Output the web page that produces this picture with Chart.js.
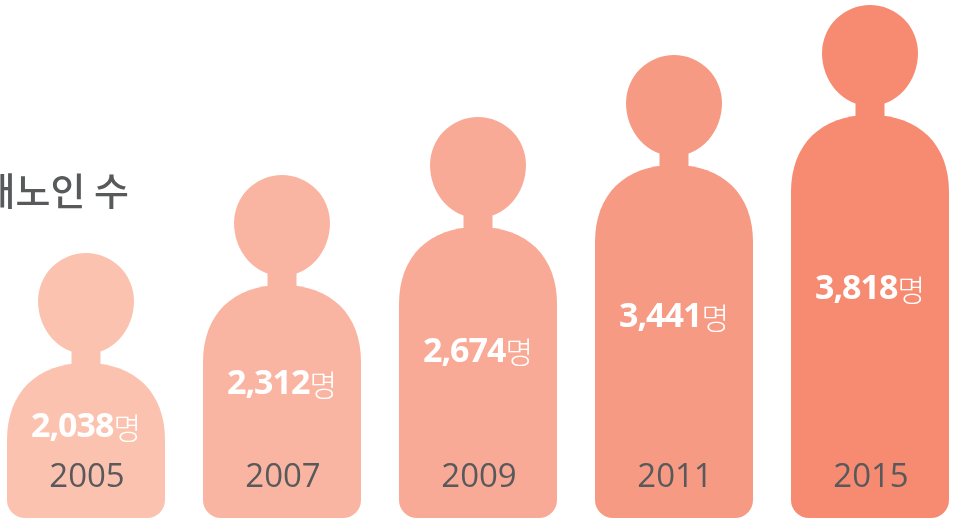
<!DOCTYPE html>
<html lang="ko">
<head>
<meta charset="utf-8">
<title>치매노인 수</title>
<script src="https://cdn.jsdelivr.net/npm/chart.js@4"></script>
<style>
    html, body { margin: 0; padding: 0; width: 953px; height: 518px; overflow: hidden; background: #fff; }
    #chart { position: absolute; left: -12px; top: 0; }
</style>
</head>
<body>
<canvas id="chart" width="980" height="518"></canvas>
<script>
const chartTitle = '치매노인 수';
const years = ['2005', '2007', '2009', '2011', '2015'];
const counts = [2038, 2312, 2674, 3441, 3818];
const figureColors = ['#fcc2b0', '#fab5a2', '#f9aa96', '#f79a84', '#f68b72'];

const textGrey = '#58595b';
const latinFont = '"Open Sans", sans-serif';
const koreanFont = '"Noto Sans CJK KR", sans-serif';

// the figures in the picture are not drawn to scale, so the y axis is
// piecewise: each stop says what share of the axis height a value reaches
class FigureScale extends Chart.LinearScale {
    static id = 'figureScale';
    static defaults = Chart.LinearScale.defaults;

    getPixelForValue(value) {
        const stops = this.options.stops;
        let share = stops[stops.length - 1][1];
        for (let i = 1; i < stops.length; i++) {
            if (value <= stops[i][0]) {
                const [v0, s0] = stops[i - 1];
                const [v1, s1] = stops[i];
                share = s0 + (s1 - s0) * (value - v0) / (v1 - v0);
                break;
            }
        }
        return this.bottom - share * (this.bottom - this.top);
    }
}
Chart.register(FigureScale);

function drawFigure(ctx, bar, color) {
    const { x, y, base, width } = bar.getProps(['x', 'y', 'base', 'width'], true);
    const half = width / 2;
    const headRadius = 48;
    const headChin = 53;  // head tapers a little towards the neck
    const shoulderTop = y + 110;
    const shoulderDrop = 77;
    const bulge = 0.62;
    const cornerRadius = 18;
    const headY = y + headRadius;

    ctx.fillStyle = color;
    ctx.beginPath();
    ctx.arc(x, headY, headRadius, Math.PI, Math.PI * 2);
    ctx.ellipse(x, headY, headRadius, headChin, 0, 0, Math.PI);
    ctx.closePath();
    ctx.fill();
    ctx.fillRect(x - 14.5, headY, 29, shoulderTop - headY + 2);

    ctx.beginPath();
    ctx.moveTo(x - half, shoulderTop + shoulderDrop);
    ctx.bezierCurveTo(x - half, shoulderTop + shoulderDrop * (1 - bulge), x - half * bulge, shoulderTop, x, shoulderTop);
    ctx.bezierCurveTo(x + half * bulge, shoulderTop, x + half, shoulderTop + shoulderDrop * (1 - bulge), x + half, shoulderTop + shoulderDrop);
    ctx.lineTo(x + half, base - cornerRadius);
    ctx.arcTo(x + half, base, x + half - cornerRadius, base, cornerRadius);
    ctx.lineTo(x - half + cornerRadius, base);
    ctx.arcTo(x - half, base, x - half, base - cornerRadius, cornerRadius);
    ctx.closePath();
    ctx.fill();
}

const figurePlugin = {
    id: 'figures',
    beforeDatasetDraw(chart, args) {
        const ctx = chart.ctx;
        ctx.save();
        args.meta.data.forEach((bar, i) => drawFigure(ctx, bar, figureColors[i]));
        ctx.restore();
        return false;
    },
    afterDatasetsDraw(chart) {
        const ctx = chart.ctx;
        const boldFont = `bold 34px ${latinFont}`;
        const unitFont = `300 30px ${koreanFont}`;
        ctx.save();
        ctx.textBaseline = 'middle';
        ctx.textAlign = 'left';
        chart.getDatasetMeta(0).data.forEach((bar, i) => {
            const { x, y, base } = bar.getProps(['x', 'y', 'base'], true);
            const number = counts[i].toLocaleString('en-US');
            ctx.font = boldFont;
            ctx.letterSpacing = '-1px';
            const numberWidth = ctx.measureText(number).width;
            ctx.letterSpacing = '0px';
            ctx.font = unitFont;
            const unitWidth = ctx.measureText('명').width;
            const labelY = base - (0.556 * (base - y) - 57);
            const left = x - (numberWidth + unitWidth) / 2;

            ctx.fillStyle = '#fff';
            ctx.font = boldFont;
            ctx.letterSpacing = '-1px';
            ctx.fillText(number, left, labelY);
            ctx.letterSpacing = '0px';
            ctx.font = unitFont;
            ctx.fillText('명', left + numberWidth, labelY);
        });
        ctx.restore();
    },
    afterDraw(chart) {
        const ctx = chart.ctx;
        ctx.save();
        ctx.fillStyle = textGrey;
        ctx.font = `500 38px ${koreanFont}`;
        ctx.textAlign = 'right';
        ctx.textBaseline = 'middle';
        ctx.fillText(chartTitle, 141, 191);
        ctx.restore();
    }
};

new Chart(document.getElementById('chart'), {
    type: 'bar',
    data: {
        labels: years,
        datasets: [{
            data: counts,
            backgroundColor: figureColors,
            barPercentage: 158 / 196,
            categoryPercentage: 1
        }]
    },
    options: {
        responsive: false,
        animation: false,
        layout: { padding: 0 },
        plugins: {
            legend: { display: false },
            tooltip: { enabled: false }
        },
        scales: {
            x: {
                afterFit: scale => { scale.height = 0; },
                border: { display: false },
                grid: { display: false, drawTicks: false },
                ticks: {
                    color: textGrey,
                    font: { family: latinFont, size: 33 },
                    padding: 21,
                    labelOffset: 1,
                    mirror: true,
                    maxRotation: 0,
                    autoSkip: false,
                    z: 1
                }
            },
            y: {
                type: 'figureScale',
                display: false,
                min: 0,
                max: 4000,
                stops: [[0, 0], [2038, 265 / 518], [2312, 343 / 518], [2674, 401 / 518], [3441, 463 / 518], [3818, 513 / 518], [4000, 1]]
            }
        }
    },
    plugins: [figurePlugin]
});
</script>
</body>
</html>
